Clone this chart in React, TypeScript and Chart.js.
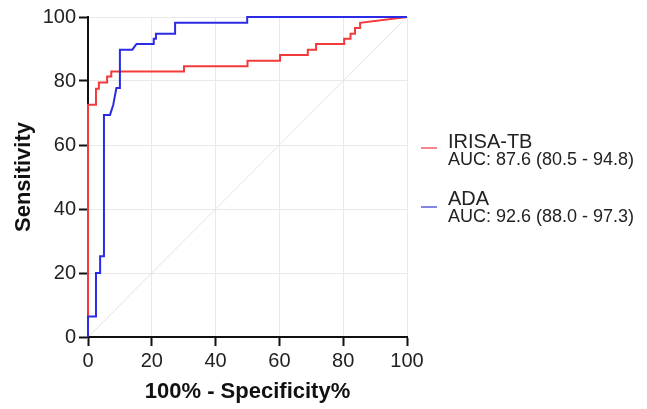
import React, { useEffect, useRef } from "react";
import { Chart, registerables } from "chart.js";

Chart.register(...registerables);

// IRISA-TB ROC curve vertices (100% - Specificity%, Sensitivity)
const irisaFpr = [0, 0, 2.5, 2.5, 3.4, 3.4, 6.0, 6.0, 7.3, 7.3, 30.1, 30.1, 50.0, 50.0, 60.2, 60.2, 68.9, 68.9, 71.5, 71.5, 80.3, 80.3, 82.3, 82.3, 83.7, 83.7, 85.3, 85.3, 100];
const irisaSens = [0, 72.6, 72.6, 77.6, 77.6, 79.5, 79.5, 81.4, 81.4, 83.0, 83.0, 84.6, 84.6, 86.3, 86.3, 88.1, 88.1, 89.8, 89.8, 91.6, 91.6, 93.2, 93.2, 94.8, 94.8, 96.6, 96.6, 98.2, 100];

// ADA ROC curve vertices
const adaFpr = [0, 0, 2.5, 2.5, 3.8, 3.8, 5.0, 5.0, 6.9, 7.9, 8.9, 10.0, 10.0, 13.9, 15.2, 20.6, 20.6, 21.3, 21.3, 27.3, 27.3, 49.9, 49.9, 100];
const adaSens = [0, 6.4, 6.4, 20.0, 20.0, 25.2, 25.2, 69.4, 69.4, 72.5, 77.8, 77.8, 89.8, 89.8, 91.6, 91.6, 93.2, 93.2, 94.8, 94.8, 98.2, 98.2, 100, 100];

const refLine = [0, 100];
const tickValues = [0, 20, 40, 60, 80, 100];

const seriesNames = ["IRISA-TB", "ADA"];
const aucLabels = ["AUC: 87.6 (80.5 - 94.8)", "AUC: 92.6 (88.0 - 97.3)"];

const RED = "#f23a3a";
const BLUE = "#2b2be6";

const zip = (xs: number[], ys: number[]) => xs.map((x, i) => ({ x, y: ys[i] }));

const legendPlugin = {
  id: "rocLegend",
  afterDraw(chart: any) {
    const ctx = chart.ctx;
    ctx.save();
    const items = [
      { color: "#f06060", name: seriesNames[0], auc: aucLabels[0], y: 148, ly: 148 },
      { color: "#5a5ae0", name: seriesNames[1], auc: aucLabels[1], y: 205, ly: 207 },
    ];
    for (const it of items) {
      ctx.strokeStyle = it.color;
      ctx.lineWidth = 1.5;
      ctx.beginPath();
      ctx.moveTo(421, it.ly);
      ctx.lineTo(437, it.ly);
      ctx.stroke();
      ctx.fillStyle = "#222";
      ctx.textAlign = "left";
      ctx.textBaseline = "alphabetic";
      ctx.font = "20px 'Liberation Sans', Arial, sans-serif";
      ctx.fillText(it.name, 448, it.y);
      ctx.font = "18px 'Liberation Sans', Arial, sans-serif";
      ctx.fillText(it.auc, 448, it.y + 16.5);
    }
    ctx.restore();
  },
};

export default function App() {
  const ref = useRef<HTMLCanvasElement | null>(null);

  useEffect(() => {
    if (!ref.current) return;
    const font = "'Liberation Sans', Arial, sans-serif";
    const chart = new Chart(ref.current, {
      type: "line",
      data: {
        datasets: [
          {
            label: "ADA",
            data: zip(adaFpr, adaSens),
            borderColor: BLUE,
            borderWidth: 2,
            pointRadius: 0,
            tension: 0,
            fill: false,
            order: 0,
            clip: false as any,
          },
          {
            label: "IRISA-TB",
            data: zip(irisaFpr, irisaSens),
            borderColor: RED,
            borderWidth: 2,
            pointRadius: 0,
            tension: 0,
            fill: false,
            order: 1,
            clip: false as any,
          },
          {
            label: "ref",
            data: zip(refLine, refLine),
            borderColor: "#e4e4e4",
            borderWidth: 1,
            pointRadius: 0,
            fill: false,
            order: 2,
          },
        ],
      },
      options: {
        animation: false,
        responsive: false,
        devicePixelRatio: 1,
        layout: { padding: { left: 0, top: 17, right: 240, bottom: 0 } },
        plugins: { legend: { display: false }, tooltip: { enabled: false } },
        scales: {
          x: {
            type: "linear",
            min: 0,
            max: 100,
            afterBuildTicks: (s: any) => {
              s.ticks = tickValues.map((v) => ({ value: v }));
            },
            afterFit: (s: any) => {
              s.height = 72;
            },
            ticks: { color: "#222", font: { family: font, size: 20 }, padding: 3, maxRotation: 0 },
            grid: { color: "#e9e9e9", lineWidth: 1, tickColor: "#111", tickWidth: 2, tickLength: 9 },
            border: { color: "#111", width: 2 },
            title: {
              display: true,
              text: "100% - Specificity%",
              color: "#111",
              font: { family: font, size: 22, weight: "bold" },
              padding: { top: 0, bottom: 4 },
            },
          },
          y: {
            type: "linear",
            min: 0,
            max: 100,
            afterBuildTicks: (s: any) => {
              s.ticks = tickValues.map((v) => ({ value: v }));
            },
            afterFit: (s: any) => {
              s.width = 88;
            },
            ticks: { color: "#222", font: { family: font, size: 20 }, padding: 3 },
            grid: { color: "#e9e9e9", lineWidth: 1, tickColor: "#111", tickWidth: 2, tickLength: 9 },
            border: { color: "#111", width: 2 },
            title: {
              display: true,
              text: "Sensitivity",
              color: "#111",
              font: { family: font, size: 22, weight: "bold" },
              padding: { top: 11, bottom: 0 },
            },
          },
        },
      },
      plugins: [legendPlugin],
    });
    return () => chart.destroy();
  }, []);

  return (
    <div style={{ position: "fixed", left: 0, top: 0, width: 647, height: 409, background: "#fff" }}>
      <canvas ref={ref} width={647} height={409} style={{ width: 647, height: 409, display: "block" }} />
    </div>
  );
}
